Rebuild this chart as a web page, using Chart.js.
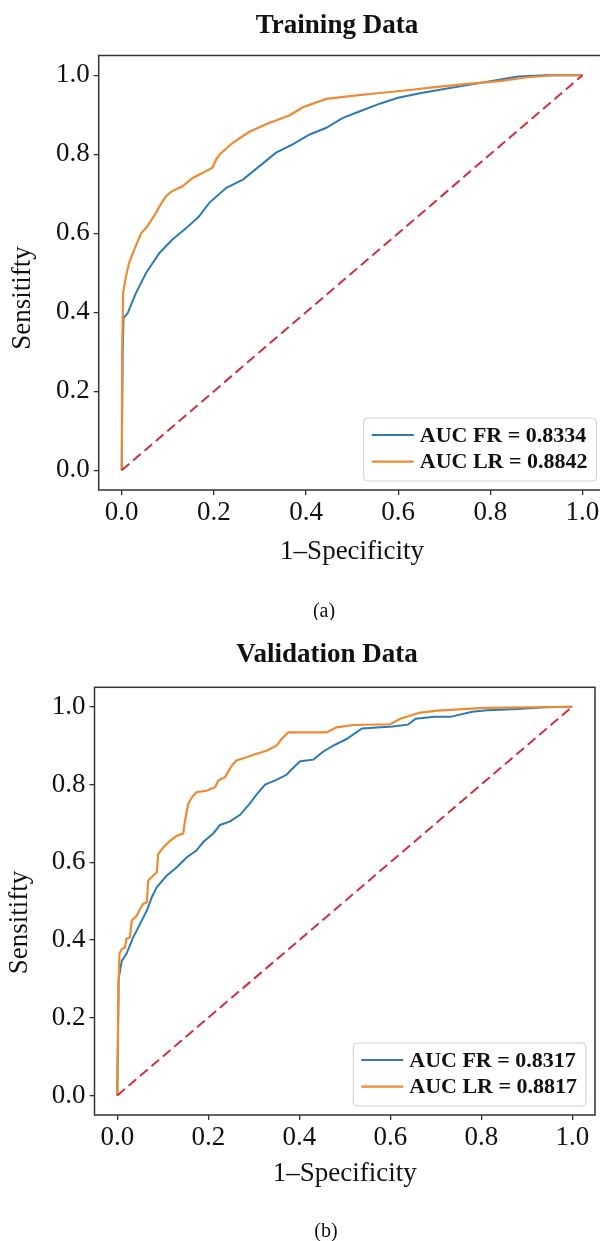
<!DOCTYPE html>
<html><head><meta charset="utf-8">
<script src="https://cdn.jsdelivr.net/npm/chart.js@4.4.1/dist/chart.umd.min.js"></script>
<style>
html,body{margin:0;padding:0;background:#fff;width:600px;height:1241px;overflow:hidden;}
.wrap{position:absolute;left:0;width:620px;}
canvas{display:block;}
</style></head><body>
<div class="wrap" style="top:0;height:620px"><canvas id="c1" width="620" height="620"></canvas></div>
<div class="wrap" style="top:620px;height:621px"><canvas id="c2" width="620" height="621"></canvas></div>
<script>
// ---- data ----
const axisTicks = [0, 0.2, 0.4, 0.6, 0.8, 1.0];
const chanceX = [0, 1];
const chanceY = [0, 1];

const trainFRx = [0,0.002,0.004,0.013,0.031,0.053,0.082,0.11,0.14,0.168,0.19,0.227,0.263,0.299,0.335,0.371,0.408,0.444,0.48,0.52,0.56,0.60,0.65,0.70,0.75,0.80,0.86,0.92,1.0];
const trainFRy = [0,0.30,0.385,0.398,0.449,0.50,0.55,0.584,0.613,0.643,0.677,0.715,0.736,0.77,0.804,0.825,0.85,0.867,0.892,0.91,0.928,0.943,0.955,0.965,0.975,0.985,0.997,1.0,1.0];
const trainLRx = [0,0.001,0.003,0.009,0.016,0.027,0.042,0.053,0.074,0.082,0.096,0.11,0.132,0.154,0.176,0.197,0.205,0.212,0.241,0.277,0.321,0.364,0.393,0.444,0.50,0.56,0.62,0.68,0.75,0.82,0.88,0.94,1.0];
const trainLRy = [0,0.30,0.45,0.49,0.525,0.558,0.60,0.613,0.651,0.668,0.694,0.707,0.719,0.740,0.753,0.766,0.787,0.799,0.829,0.857,0.880,0.898,0.919,0.94,0.948,0.955,0.962,0.97,0.978,0.985,0.995,1.0,1.0];

const valFRx = [0,0.003,0.01,0.02,0.035,0.05,0.065,0.076,0.087,0.109,0.131,0.153,0.174,0.189,0.211,0.226,0.248,0.27,0.292,0.306,0.325,0.35,0.372,0.387,0.402,0.431,0.453,0.475,0.504,0.538,0.605,0.639,0.656,0.698,0.732,0.78,0.813,0.88,0.94,1.0];
const valFRy = [0,0.30,0.347,0.364,0.407,0.441,0.476,0.51,0.536,0.566,0.587,0.613,0.63,0.652,0.674,0.696,0.705,0.722,0.752,0.774,0.80,0.812,0.825,0.843,0.86,0.864,0.885,0.90,0.917,0.944,0.949,0.954,0.969,0.974,0.974,0.987,0.991,0.994,0.999,1.0];
const valLRx = [0,0.003,0.005,0.01,0.017,0.02,0.028,0.032,0.043,0.05,0.057,0.065,0.068,0.079,0.087,0.09,0.101,0.116,0.131,0.145,0.149,0.156,0.164,0.174,0.196,0.215,0.222,0.237,0.252,0.262,0.284,0.306,0.328,0.35,0.361,0.376,0.424,0.46,0.482,0.519,0.60,0.622,0.666,0.704,0.805,1.0];
const valLRy = [0,0.29,0.365,0.377,0.381,0.403,0.407,0.45,0.463,0.48,0.493,0.497,0.553,0.566,0.574,0.621,0.638,0.655,0.668,0.674,0.707,0.75,0.767,0.78,0.784,0.793,0.81,0.819,0.849,0.862,0.87,0.879,0.887,0.90,0.917,0.934,0.934,0.934,0.947,0.953,0.955,0.969,0.985,0.99,0.997,1.0];

const trainLabels = ['AUC FR = 0.8334', 'AUC LR = 0.8842'];
const valLabels = ['AUC FR = 0.8317', 'AUC LR = 0.8817'];
const titles = ['Training Data', 'Validation Data'];
const captions = ['(a)', '(b)'];
const xTitle = '1\u2013Specificity';
const yTitle = 'Sensitifty';

// ---- styling ----
const BLUE = '#2b7bb4', ORANGE = '#ee8a30', RED = '#d22f3c', AX = '#333333';
const SERIF = '"Liberation Serif", "Times New Roman", serif';

function pts(xs, ys) { return xs.map((x, i) => ({x: x, y: ys[i]})); }

const decor = {
  id: 'decor',
  afterDatasetsDraw(chart, args, o) {
    const ctx = chart.ctx, ca = chart.chartArea;
    ctx.save();
    ctx.strokeStyle = AX; ctx.lineWidth = 1.5;
    ctx.strokeRect(ca.left, ca.top, ca.right - ca.left, ca.bottom - ca.top);
    ctx.restore();
  },
  afterDraw(chart, args, o) {
    const ctx = chart.ctx, ca = chart.chartArea;
    ctx.save();
    ctx.fillStyle = '#111';
    // title
    ctx.font = 'bold 27px ' + SERIF;
    ctx.textAlign = 'center'; ctx.textBaseline = 'alphabetic';
    ctx.fillText(o.title, o.titleX, o.titleBase);
    // x title
    ctx.font = '27px ' + SERIF;
    ctx.fillText(xTitle, (ca.left + ca.right) / 2, ca.bottom + o.xTitleOff);
    // y title
    ctx.save();
    ctx.translate(o.yTitleX, o.yTitleY);
    ctx.rotate(-Math.PI / 2);
    ctx.textBaseline = 'middle';
    ctx.fillText(yTitle, 0, 0);
    ctx.restore();
    // caption
    ctx.font = '20px ' + SERIF;
    ctx.textBaseline = 'middle';
    ctx.fillText(o.caption, o.capX, o.capY);
    // legend
    const ds = chart.data.datasets.filter(d => d.label);
    ctx.font = 'bold 22px ' + SERIF;
    const tw = Math.max(...ds.map(d => ctx.measureText(d.label).width));
    const w = 8 + 42 + 6 + tw + 9, h = 63;
    const right = ca.right - 9, bottom = ca.bottom - 9;
    const left = right - w, top = bottom - h;
    ctx.beginPath();
    ctx.roundRect(left, top, w, h, 4);
    ctx.fillStyle = 'rgba(255,255,255,0.85)'; ctx.fill();
    ctx.strokeStyle = '#cfcfcf'; ctx.lineWidth = 1; ctx.stroke();
    ds.forEach((d, i) => {
      const y = top + 17 + i * 26.7;
      ctx.beginPath(); ctx.strokeStyle = d.borderColor; ctx.lineWidth = 2.2;
      ctx.moveTo(left + 8, y); ctx.lineTo(left + 50, y); ctx.stroke();
      ctx.fillStyle = '#111'; ctx.textAlign = 'left'; ctx.textBaseline = 'middle';
      ctx.fillText(d.label, left + 56, y + 1);
    });
    ctx.restore();
  }
};

function makeChart(id, frX, frY, lrX, lrY, labels, pad, yW, deco) {
  const tickFont = {family: SERIF, size: 27};
  const fmt = v => Number(v).toFixed(1);
  return new Chart(document.getElementById(id), {
    type: 'line',
    data: {
      datasets: [
        {data: pts(chanceX, chanceY), borderColor: RED, borderWidth: 2, borderDash: [10, 5], order: 0},
        {label: labels[0], data: pts(frX, frY), borderColor: BLUE, borderWidth: 2, order: 2},
        {label: labels[1], data: pts(lrX, lrY), borderColor: ORANGE, borderWidth: 2.2, order: 1}
      ]
    },
    options: {
      responsive: false, animation: false, devicePixelRatio: 1,
      parsing: false,
      elements: {point: {radius: 0}, line: {tension: 0, fill: false}},
      layout: {padding: pad},
      plugins: {legend: {display: false}, tooltip: {enabled: false}, title: {display: false}, decor: deco},
      scales: {
        x: {
          type: 'linear', min: -0.05, max: 1.05,
          afterBuildTicks: s => { s.ticks = axisTicks.map(v => ({value: v})); },
          afterFit: s => { s.height = 80; },
          ticks: {font: tickFont, color: '#111', padding: 2, callback: fmt, maxRotation: 0},
          grid: {display: true, drawOnChartArea: false, drawTicks: true, tickLength: 5, color: AX, lineWidth: 1.3},
          border: {display: false}
        },
        y: {
          type: 'linear', min: -0.05, max: 1.05,
          afterBuildTicks: s => { s.ticks = axisTicks.map(v => ({value: v})); },
          afterFit: s => { s.width = yW; },
          ticks: {font: tickFont, color: '#111', padding: 4, callback: fmt},
          grid: {display: true, drawOnChartArea: false, drawTicks: true, tickLength: 5, color: AX, lineWidth: 1.3},
          border: {display: false}
        }
      }
    },
    plugins: [decor]
  });
}

makeChart('c1', trainFRx, trainFRy, trainLRx, trainLRy, trainLabels,
  {left: 0, top: 55.5, right: 14.5, bottom: 50}, 98.7,
  {title: titles[0], titleX: 337, titleBase: 33.3, xTitleOff: 69, yTitleX: 23, yTitleY: 298, caption: captions[0], capX: 324, capY: 611.7});

makeChart('c2', valFRx, valFRy, valLRx, valLRy, valLabels,
  {left: 0, top: 67.3, right: 25, bottom: 46}, 94.5,
  {title: titles[1], titleX: 327, titleBase: 41.7, xTitleOff: 66, yTitleX: 20, yTitleY: 302.6, caption: captions[1], capX: 326, capY: 611.5});
</script>
</body></html>
